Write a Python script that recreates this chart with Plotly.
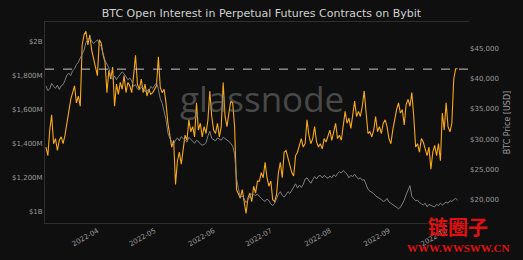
import pandas as pd
import plotly.graph_objects as go

start_date = "2022-03-05"

open_interest_musd = [
    1380,1330,1480,1570,1400,1430,1360,1420,1440,1400,
    1450,1530,1600,1660,1700,1740,1640,1680,1620,1980,
    2040,2060,1980,2040,1950,1900,1860,1800,2010,1990,
    1920,1880,1700,1830,1780,1850,1620,1750,1690,1760,
    1720,1800,1700,1760,1740,1700,1800,1920,1750,1720,
    1780,1700,1750,1680,1720,1690,1700,1720,1740,1910,
    1730,1700,1720,1640,1520,1450,1380,1420,1160,1300,
    1350,1280,1380,1450,1420,1540,1470,1500,1440,1640,
    1480,1520,1440,1500,1460,1540,1710,1560,1480,1460,
    1520,1440,1500,1760,1560,1500,1580,1650,1640,1500,
    1130,1100,1080,1130,1060,990,1080,1110,1060,1150,
    1110,1180,1180,1230,1200,1290,1200,1150,1180,1070,
    1060,1100,1230,1290,1200,1350,1360,1310,1280,1230,
    1210,1330,1350,1390,1430,1380,1400,1540,1450,1400,
    1430,1500,1410,1380,1400,1370,1430,1410,1450,1480,
    1420,1470,1520,1430,1450,1420,1500,1590,1520,1550,
    1490,1560,1650,1560,1590,1560,1620,1710,1600,1460,
    1470,1440,1480,1560,1470,1500,1460,1520,1540,1500,
    1430,1400,1480,1550,1600,1640,1580,1600,1510,1630,
    1660,1620,1700,1560,1380,1400,1350,1430,1410,1370,
    1330,1380,1250,1350,1390,1330,1400,1300,1580,1480,
    1640,1500,1470,1520,1780,1840,1840,
]

btc_price_usd = [
    38800,38000,38300,39200,38700,38400,38900,38200,38800,39000,
    39700,40600,40900,40500,41300,41600,42300,42700,43400,44200,
    44700,46000,46500,46800,46200,45800,46100,46400,45700,45300,
    44100,43000,42400,41800,40200,39900,40400,39800,40300,40700,
    41100,40800,40200,39800,40100,39600,38700,39000,38300,38100,
    38600,38500,37800,38100,37900,38700,38400,38800,39300,38200,
    36700,35900,34500,33200,31000,30100,29600,29200,29800,30200,
    29700,30400,30100,29800,29500,30300,29900,29600,29300,29800,
    29600,29200,29000,29100,29400,30500,31300,30100,29900,29700,
    30200,30000,29800,30300,30100,29900,29600,29300,28800,27500,
    23500,21800,20400,20600,20200,19500,20000,20600,21000,20800,
    20700,20900,20500,20200,19900,19700,20100,19800,19300,19000,
    19400,20300,20900,21300,20700,20400,20800,21300,21000,21600,
    22200,22600,21900,22400,22000,22500,23400,23600,23100,22700,
    23300,23800,23400,23900,24000,23600,24000,23700,23500,23900,
    23600,24100,23800,24300,24600,24400,24800,24500,24200,23600,
    24000,23800,24200,23700,23400,23600,23200,23300,22600,21700,
    21400,21200,21000,20600,20400,20300,20000,19700,19800,20200,
    19600,19400,19200,19000,18700,18500,18700,19300,19900,20800,
    21500,22300,20500,20100,19800,19900,19500,19300,19100,19400,
    18800,19200,19000,18900,18800,19200,19000,19400,19100,19300,
    19600,19400,19800,19700,20000,20200,19900,
]

oi_reference_level = 1838

left_tickvals = [1000, 1200, 1400, 1600, 1800, 2000]
left_ticktext = ["$1B", "$1,200M", "$1,400M", "$1,600M", "$1,800M", "$2B"]
right_tickvals = [20000, 25000, 30000, 35000, 40000, 45000]
x_tickvals = ["2022-04-01", "2022-05-01", "2022-06-01", "2022-07-01",
              "2022-08-01", "2022-09-01", "2022-10-01"]
x_ticktext = ["2022-04", "2022-05", "2022-06", "2022-07", "2022-08", "2022-09", "2022-10"]

dates = pd.date_range(start_date, periods=len(open_interest_musd), freq="D")

BG = "#0f0f0f"
TXT = "#9a9a9a"

fig = go.Figure()
fig.add_trace(go.Scatter(x=dates, y=btc_price_usd, yaxis="y2", mode="lines",
                         line=dict(color="#8a8a8a", width=0.9), showlegend=False))
fig.add_trace(go.Scatter(x=dates, y=open_interest_musd, yaxis="y", mode="lines",
                         line=dict(color="#f7a81b", width=1.1), showlegend=False))

fig.add_shape(type="line", xref="paper", x0=0, x1=1, yref="y",
              y0=oi_reference_level, y1=oi_reference_level,
              line=dict(color="#c8c8c8", width=1, dash="dash"))

fig.add_annotation(text="glassnode", xref="paper", yref="paper", x=0.512, y=0.62,
                   showarrow=False, font=dict(family="Open Sans", size=35,
                                              color="rgba(130,130,130,0.5)"))
fig.add_annotation(text="<b>链圈子</b>", xref="paper", yref="paper", x=0.975, y=-0.015,
                   showarrow=False, yanchor="middle", xanchor="center",
                   font=dict(family="Noto Sans CJK SC", size=20, color="#e01010"))
fig.add_annotation(text="<b>WWW.WWSWW.CN</b>", xref="paper", yref="paper", x=0.975, y=-0.125,
                   showarrow=False, yanchor="middle", xanchor="center",
                   font=dict(family="Liberation Serif", size=11, color="#e01010"))

fig.update_layout(
    width=523, height=260,
    margin=dict(l=40, r=49, t=22, b=32),
    paper_bgcolor=BG, plot_bgcolor=BG,
    title=dict(text="BTC Open Interest in Perpetual Futures Contracts on Bybit",
               x=0.5, xanchor="center", y=0.95, yanchor="middle",
               font=dict(family="DejaVu Sans", size=11, color="#d0d0d0")),
    xaxis=dict(range=["2022-03-04 12:00", "2022-10-13"], tickvals=x_tickvals,
               ticktext=x_ticktext, tickangle=-30, showgrid=False, zeroline=False,
               showline=True, linecolor="#2e2e2e", mirror=True,
               tickfont=dict(family="DejaVu Sans", size=7, color=TXT)),
    yaxis=dict(range=[934, 2115], tickvals=left_tickvals, ticktext=left_ticktext,
               showgrid=False, zeroline=False, showline=True, linecolor="#2e2e2e",
               tickfont=dict(family="DejaVu Sans", size=7, color=TXT)),
    yaxis2=dict(range=[16130, 49350], overlaying="y", side="right",
                tickvals=right_tickvals, tickformat="$,.0f", showgrid=False,
                zeroline=False,
                title=dict(text="BTC Price [USD]", standoff=6,
                           font=dict(family="DejaVu Sans", size=8, color=TXT)),
                tickfont=dict(family="DejaVu Sans", size=7, color=TXT)),
)

fig.write_html("out.html")
